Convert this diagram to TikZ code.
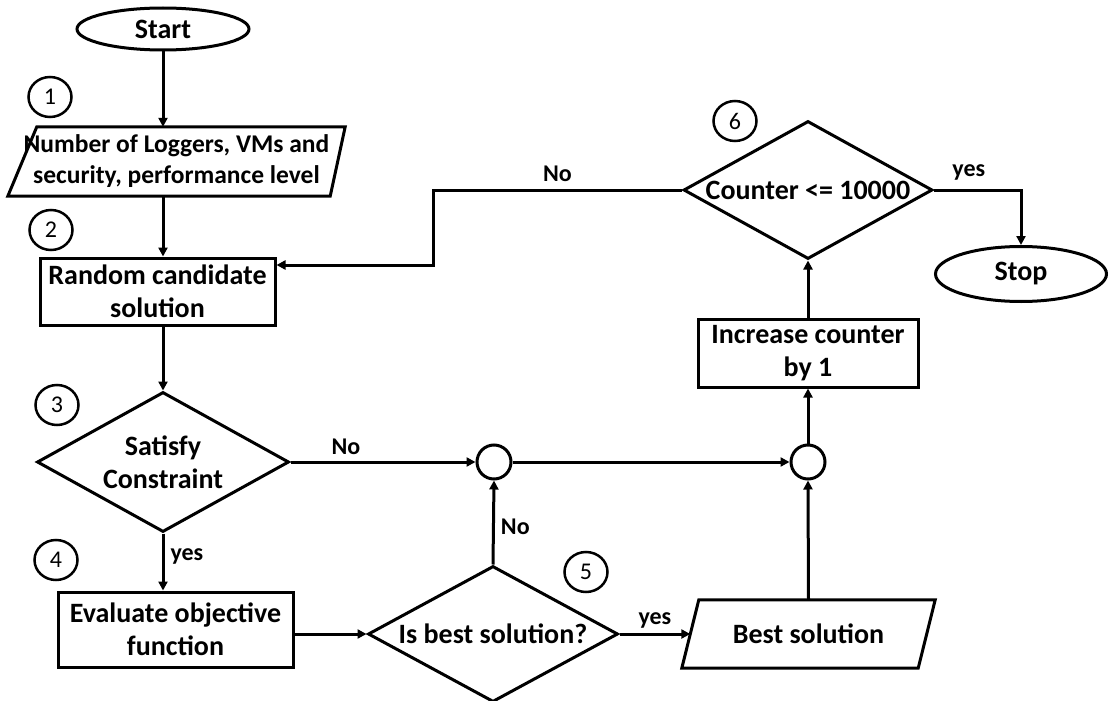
\documentclass[tikz,border=0pt]{standalone}
\usepackage{fontspec}
\setmainfont{Carlito}
\usetikzlibrary{shapes.geometric,arrows.meta}
\begin{document}
\begin{tikzpicture}[x=1pt,y=-1pt,
  base/.style={line width=3pt},
  arr/.style={line width=3pt,-{Triangle[length=9pt,width=9pt]}},
  lbl/.style={font=\fontsize{24}{28}\selectfont\bfseries, inner sep=0pt},
  txt/.style={font=\fontsize{28}{33}\selectfont\bfseries, align=center, inner sep=0pt},
  terminal/.style={ellipse, draw, line width=3pt, txt},
  numc/.style={ellipse, draw, line width=2.5pt, minimum width=43pt, minimum height=40pt, inner sep=0pt, font=\fontsize{24}{28}\selectfont},
  junc/.style={circle, draw, line width=3pt, minimum size=34pt, inner sep=0pt},
  procbox/.style={rectangle, draw, line width=3pt, txt},
  iobox/.style={rectangle, txt},
  decision/.style={diamond, draw, line width=3pt, inner sep=0pt}
]
\useasboundingbox (0,0) rectangle (1109,701);

% nodes
\node[terminal, minimum width=172pt, minimum height=42pt] (start) at (163,29) {Start};
\node[numc] (c1) at (50,97) {1};
\node[iobox, minimum width=337pt, minimum height=69pt, font=\fontsize{25.5}{31}\selectfont\bfseries] (p1) at (176.5,161.5) {Number of Loggers, VMs and\\security, performance level};
\node[numc] (c2) at (51,230) {2};
\node[procbox, minimum width=235pt, minimum height=67pt] (r1) at (157.5,291.5) {Random candidate\\solution};
\node[decision, minimum width=252pt, minimum height=140pt] (d3) at (163,462) {};
\node[txt] (d3t) at (d3) {Satisfy\\Constraint};
\node[numc] (c3) at (57,405) {3};
\node[numc] (c4) at (56,560) {4};
\node[procbox, minimum width=235pt, minimum height=75pt] (r2) at (175.5,629.5) {Evaluate objective\\function};
\node[decision, minimum width=250pt, minimum height=136pt] (d5) at (493,634) {};
\node[txt] (d5t) at (d5) {Is best solution?};
\node[numc] (c5) at (586,572) {5};
\node[junc] (j1) at (494,462) {};
\node[junc] (j2) at (808,462) {};
\node[iobox, minimum width=253pt, minimum height=68pt] (p2) at (808.5,634) {Best solution};
\node[procbox, minimum width=220pt, minimum height=68pt] (r3) at (808,353) {Increase counter\\by 1};
\node[decision, minimum width=249pt, minimum height=138pt] (d6) at (808,190) {};
\node[txt] (d6t) at (d6) {Counter <= 10000};
\node[numc] (c6) at (735,121) {6};
\node[terminal, minimum width=171pt, minimum height=55pt] (stop) at (1021,274) {Stop};

% parallelograms
\draw[base] ([xshift=29pt]p1.north west) -- (p1.north east) -- ([xshift=-15pt]p1.south east) -- (p1.south west) -- cycle;
\draw[base] ([xshift=17pt]p2.north west) -- (p2.north east) -- ([xshift=-17pt]p2.south east) -- (p2.south west) -- cycle;

% connectors
\draw[arr] (start.south) -- (start.south |- p1.north);
\draw[arr] (start.south |- p1.south) -- (start.south |- r1.north);
\draw[arr] (r1.south -| d3.north) -- (d3.north);
\draw[arr] (d3.east) -- (j1.west) node[lbl, pos=0.3, above=6pt] {No};
\draw[arr] (d3.south) -- (d3.south |- r2.north) node[lbl, pos=0.4, right=6pt] {yes};
\draw[arr] (r2.east |- d5.west) -- (d5.west);
\draw[arr] (d5.north) -- (j1.south) node[lbl, pos=0.45, right=6pt] {No};
\draw[arr] (d5.east) -- ([xshift=8.5pt]p2.west) node[lbl, midway, above=4pt] {yes};
\draw[arr] (j1.east) -- (j2.west);
\draw[arr] (p2.north) -- (j2.south);
\draw[arr] (j2.north) -- (r3.south);
\draw[arr] (r3.north) -- (d6.south);
\draw[arr] (d6.east) -| (stop.north) node[lbl, pos=0.2, above=8pt] {yes};
\draw[arr] (d6.west) -- ++(-249,0) node[lbl, pos=0.5, above=7pt] {No} |- ([yshift=26.5pt]r1.east);
\end{tikzpicture}
\end{document}
